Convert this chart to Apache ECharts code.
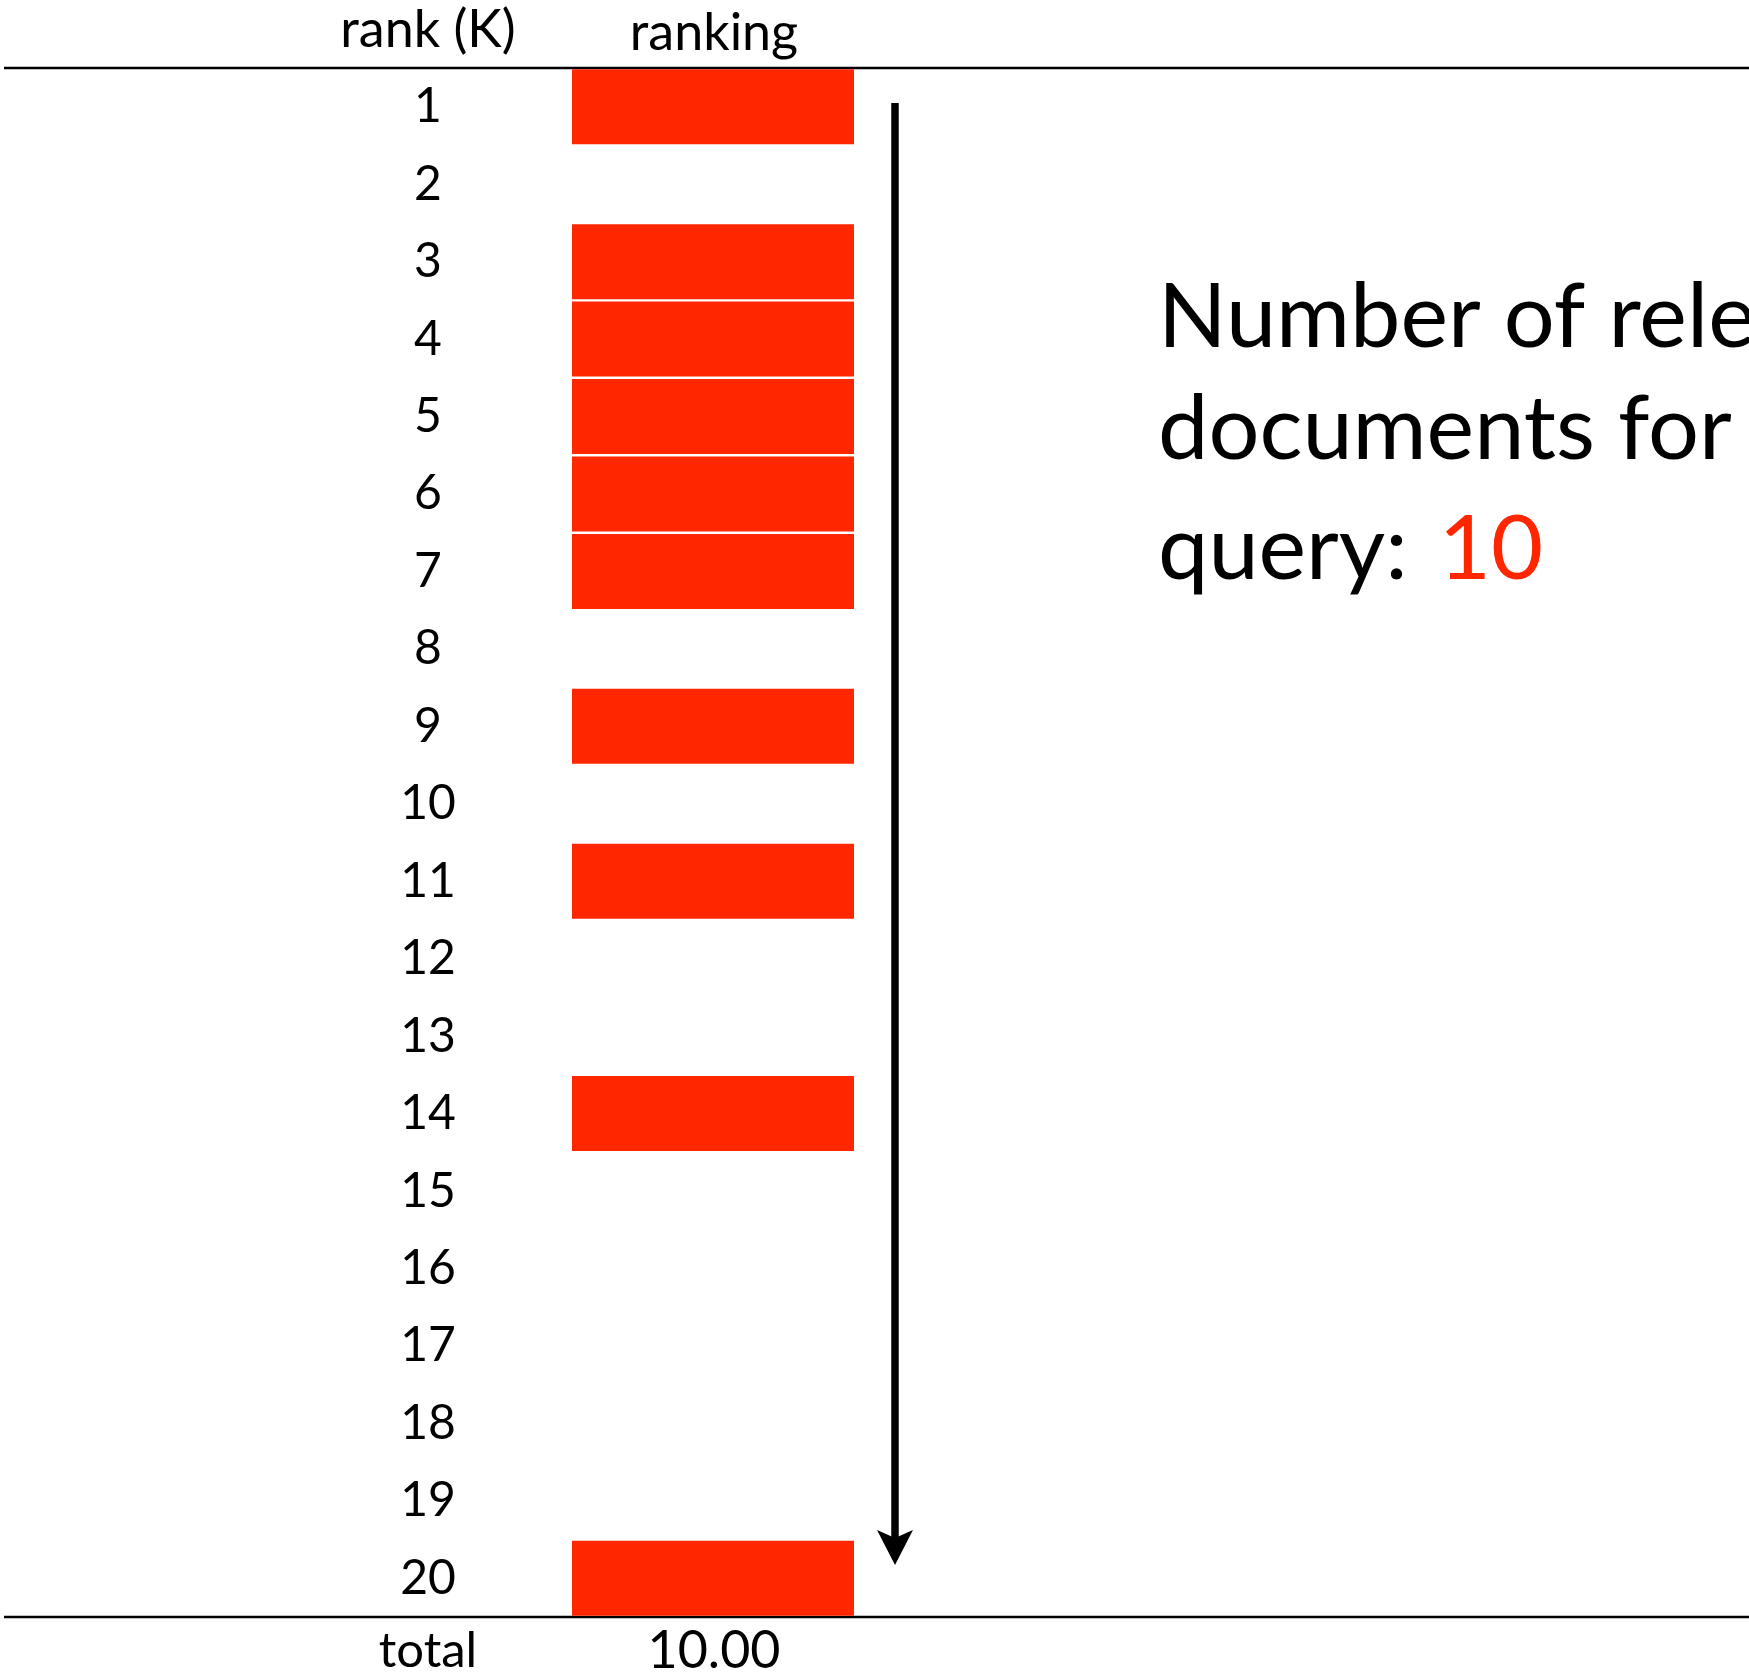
<!DOCTYPE html>
<html>
<head>
<meta charset="utf-8">
<script src="https://cdn.jsdelivr.net/npm/echarts@6/dist/echarts.min.js"></script>
<style>
html,body{margin:0;padding:0;background:#fff;}
#main{width:1749px;height:1680px;}
</style>
</head>
<body>
<div id="main"></div>
<script>
const ranks = ['1','2','3','4','5','6','7','8','9','10','11','12','13','14','15','16','17','18','19','20'];
const relevant = [1,0,1,1,1,1,1,0,1,0,1,0,0,1,0,0,0,0,0,1];
const headers = ['rank (K)', 'ranking'];
const totalLabel = 'total';
const relevantCount = 10;
const noteLines = ['Number of relevant', 'documents for this', 'query: '];

const RED = '#ff2600';
const FONT = 'Lato';
const total = relevant.reduce((a, b) => a + b, 0);

const chart = echarts.init(document.getElementById('main'));
chart.setOption({
  backgroundColor: '#ffffff',
  animation: false,
  grid: { left: 572, right: 1749 - 854, top: 68, bottom: 1680 - 1617, containLabel: false },
  xAxis: {
    type: 'value', min: 0, max: 1, show: false
  },
  yAxis: {
    type: 'category',
    inverse: true,
    data: ranks,
    axisLine: { show: false },
    axisTick: { show: false },
    splitLine: { show: false },
    axisLabel: {
      margin: 144,
      align: 'center',
      fontSize: 48,
      fontFamily: FONT,
      color: '#000',
      padding: [0, 0, 4, 0]
    }
  },
  series: [{
    type: 'bar',
    data: relevant.map(v => v ? v : '-'),
    barWidth: 75,
    itemStyle: { color: RED },
    silent: true
  }],
  graphic: [
    { type: 'line', shape: { x1: 4, y1: 68, x2: 1749, y2: 68 }, style: { stroke: '#000', lineWidth: 2.5 } },
    { type: 'line', shape: { x1: 4, y1: 1617, x2: 1749, y2: 1617 }, style: { stroke: '#000', lineWidth: 2.5 } },
    { type: 'text', x: 428, y: 30, style: { text: headers[0], fontSize: 52, fontFamily: FONT, fill: '#000', align: 'center', verticalAlign: 'middle' } },
    { type: 'text', x: 714, y: 33, style: { text: headers[1], fontSize: 52, fontFamily: FONT, fill: '#000', align: 'center', verticalAlign: 'middle' } },
    { type: 'text', x: 428, y: 1651, style: { text: totalLabel, fontSize: 49, fontFamily: FONT, fill: '#000', align: 'center', verticalAlign: 'middle' } },
    { type: 'text', x: 714, y: 1651, style: { text: total.toFixed(2), fontSize: 52, fontFamily: FONT, fill: '#000', align: 'center', verticalAlign: 'middle' } },
    { type: 'line', shape: { x1: 895, y1: 103, x2: 895, y2: 1540 }, style: { stroke: '#000', lineWidth: 7.5 } },
    { type: 'polygon', shape: { points: [[895, 1565], [877, 1530], [895, 1538], [913, 1530]] }, style: { fill: '#000' } },
    { type: 'text', x: 1158, y: 318, style: { text: noteLines[0], fontSize: 90, fontFamily: FONT, fill: '#000', align: 'left', verticalAlign: 'middle' } },
    { type: 'text', x: 1158, y: 430, style: { text: noteLines[1], fontSize: 90, fontFamily: FONT, fill: '#000', align: 'left', verticalAlign: 'middle' } },
    { type: 'text', x: 1158, y: 550, style: {
        text: '{a|' + noteLines[2] + '}{r|' + relevantCount + '}',
        align: 'left', verticalAlign: 'middle',
        rich: {
          a: { fontSize: 90, fontFamily: FONT, fill: '#000', color: '#000' },
          r: { fontSize: 90, fontFamily: FONT, fill: RED, color: RED, padding: [0, 0, 0, 8] }
        }
      } }
  ]
});
</script>
</body>
</html>
